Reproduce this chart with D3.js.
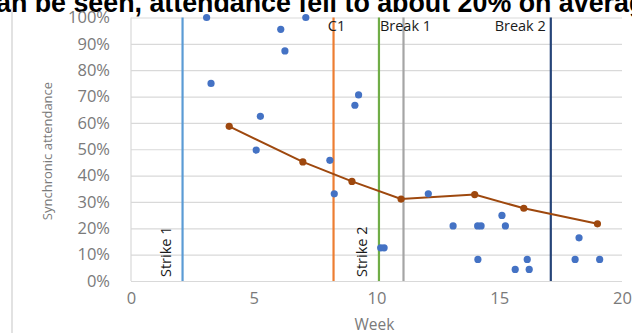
<!DOCTYPE html>
<html lang="en">
<head>
  <meta charset="UTF-8">
  <title>Synchronic attendance by week</title>
  <script src="https://d3js.org/d3.v7.min.js"></script>
  <style>
    body { margin: 0; background: #fff; }
    svg { display: block; }
    text { font-family: "Open Sans", sans-serif; }
  </style>
</head>
<body>
<script>
  // Weekly attendance samples (blue dots)
  const dotWeeks = [3.08, 7.12, 6.1, 6.27, 3.26, 5.27, 5.1, 8.1, 9.27, 9.12, 8.28,
                    12.11, 13.12, 14.12, 14.26, 15.11, 15.25, 10.17, 10.31,
                    14.13, 15.65, 16.14, 16.22, 18.25, 18.09, 19.09];
  const dotValues = [100, 100, 95.5, 87.3, 75, 62.5, 49.7, 45.8, 70.6, 66.7, 33.1,
                     33.1, 20.9, 20.9, 20.9, 24.9, 20.9, 12.6, 12.6,
                     8.2, 4.4, 8.2, 4.4, 16.4, 8.2, 8.2];

  // Average line (brown)
  const avgWeeks = [4, 7, 9, 11, 14, 16, 19];
  const avgValues = [58.7, 45.2, 37.8, 31.1, 32.8, 27.6, 21.7];

  // Event markers
  const eventNames = ["Strike 1", "C1", "Strike 2", "Break 1", "Break 2"];
  const eventWeeks = [2.1, 8.25, 10.1, 11.1, 17.1];
  const eventColors = ["#5b9bd5", "#ed7d31", "#70ad47", "#a5a5a5", "#264478"];

  const xTicks = [0, 5, 10, 15, 20];
  const yTicks = [0, 10, 20, 30, 40, 50, 60, 70, 80, 90, 100];

  const width = 632, height = 333;
  const margin = { top: 17.5, right: 10, bottom: 52, left: 131 };

  const svg = d3.select("body").append("svg")
    .attr("width", width)
    .attr("height", height);

  // slide text cut off at the top
  svg.append("text")
    .attr("x", -4)
    .attr("y", 12)
    .style("font-family", "'Liberation Sans', Arial, sans-serif")
    .style("font-weight", "bold")
    .style("font-size", "26.8px")
    .attr("fill", "#000")
    .text("an be seen, attendance fell to about 20% on average");

  // left slide border
  svg.append("line")
    .attr("x1", 12).attr("x2", 12)
    .attr("y1", 8).attr("y2", height)
    .attr("stroke", "#d9d9d9").attr("stroke-width", 1.5);

  const x = d3.scaleLinear().domain([0, 20]).range([margin.left, width - margin.right]);
  const y = d3.scaleLinear().domain([0, 100]).range([height - margin.bottom, margin.top]);

  // gridlines
  svg.append("g")
    .attr("transform", "translate(" + margin.left + ",0)")
    .call(d3.axisLeft(y).tickValues(yTicks).tickSize(-(width - margin.right - margin.left)).tickFormat(""))
    .call(g => g.select(".domain").remove())
    .call(g => g.selectAll("line").attr("stroke", "#d9d9d9").attr("stroke-width", 1.2));

  // axis lines
  svg.append("line")
    .attr("x1", x(0)).attr("x2", x(0))
    .attr("y1", y(100)).attr("y2", y(0))
    .attr("stroke", "#d9d9d9").attr("stroke-width", 1.2);

  // y tick labels
  svg.append("g")
    .attr("transform", "translate(" + margin.left + ",0)")
    .call(d3.axisLeft(y).tickValues(yTicks).tickSize(0).tickPadding(21).tickFormat(d => d + "%"))
    .call(g => g.select(".domain").remove())
    .call(g => g.selectAll("text")
      .style("font-size", "16.5px")
      .attr("fill", "#7a7a7a"));

  // x tick labels
  svg.append("g")
    .attr("transform", "translate(0," + y(0) + ")")
    .call(d3.axisBottom(x).tickValues(xTicks).tickSize(0).tickPadding(11).tickFormat(d3.format("d")))
    .call(g => g.select(".domain").remove())
    .call(g => g.selectAll("text")
      .style("font-size", "16.5px")
      .attr("fill", "#7a7a7a"));

  // axis titles
  svg.append("text")
    .attr("x", (x(0) + x(20)) / 2 - 2)
    .attr("y", 330)
    .attr("text-anchor", "middle")
    .style("font-size", "15.5px")
    .attr("fill", "#7a7a7a")
    .text("Week");

  svg.append("text")
    .attr("transform", "translate(52," + 151 + ") rotate(-90)")
    .attr("text-anchor", "middle")
    .style("font-size", "13px")
    .attr("fill", "#7a7a7a")
    .text("Synchronic attendance");

  // event lines
  const events = eventNames.map((name, i) => ({ name, week: eventWeeks[i], color: eventColors[i] }));

  svg.append("g").selectAll("line")
    .data(events)
    .join("line")
    .attr("x1", d => x(d.week)).attr("x2", d => x(d.week))
    .attr("y1", y(100)).attr("y2", y(0))
    .attr("stroke", d => d.color)
    .attr("stroke-width", 2.2);

  // event labels: strikes are rotated beside the line, others on top
  const labels = svg.append("g").style("font-size", "14.5px").attr("fill", "#1a1a1a");
  events.forEach(d => {
    if (d.name.startsWith("Strike")) {
      labels.append("text")
        .attr("transform", "translate(" + (x(d.week) - 12) + "," + (y(0) - 4) + ") rotate(-90)")
        .text(d.name);
    } else {
      const anchor = d.name === "Break 2" ? "end" : "middle";
      const dx = d.name === "Break 2" ? -5 : (d.name === "C1" ? 3 : 2);
      labels.append("text")
        .attr("x", x(d.week) + dx)
        .attr("y", 31)
        .attr("text-anchor", anchor)
        .text(d.name);
    }
  });

  // average line
  const avg = avgWeeks.map((w, i) => ({ week: w, value: avgValues[i] }));
  svg.append("path")
    .datum(avg)
    .attr("fill", "none")
    .attr("stroke", "#9e480e")
    .attr("stroke-width", 2)
    .attr("d", d3.line().x(d => x(d.week)).y(d => y(d.value)));

  svg.append("g").selectAll("circle")
    .data(avg)
    .join("circle")
    .attr("cx", d => x(d.week))
    .attr("cy", d => y(d.value))
    .attr("r", 3.6)
    .attr("fill", "#9e480e");

  // attendance dots
  const dots = dotWeeks.map((w, i) => ({ week: w, value: dotValues[i] }));
  svg.append("g").selectAll("circle")
    .data(dots)
    .join("circle")
    .attr("cx", d => x(d.week))
    .attr("cy", d => y(d.value))
    .attr("r", 3.6)
    .attr("fill", "#4472c4");
</script>
</body>
</html>
